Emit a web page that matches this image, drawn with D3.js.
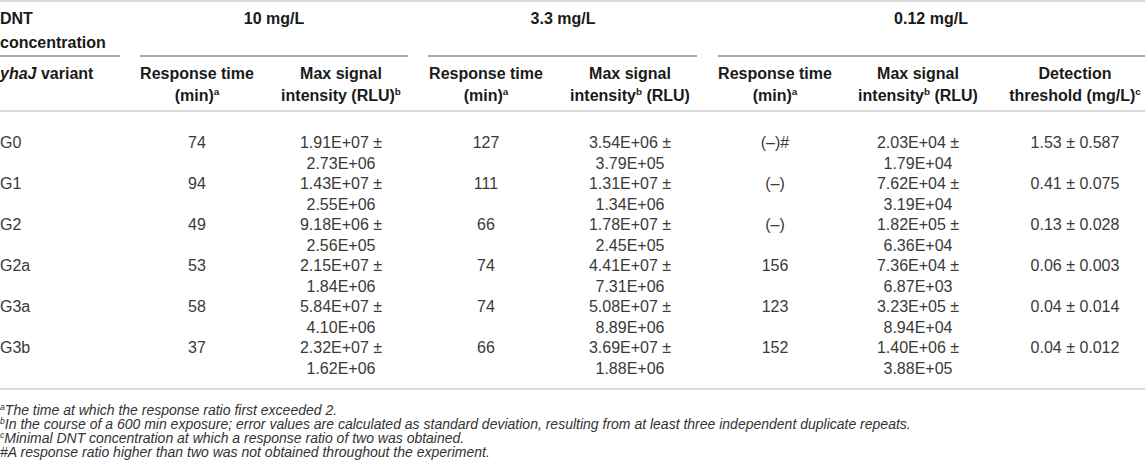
<!DOCTYPE html>
<html>
<head>
<meta charset="utf-8">
<script src="https://cdn.jsdelivr.net/npm/d3@7"></script>
<style>
  body { margin: 0; background: #fff; }
  svg { display: block; font-family: "Liberation Sans", Arial, Helvetica, sans-serif; }
</style>
</head>
<body>
<div id="chart"></div>
<script>
// Table data
var variants = ["G0", "G1", "G2", "G2a", "G3a", "G3b"];
var concentrations = ["10 mg/L", "3.3 mg/L", "0.12 mg/L"];

var respTime10 = ["74", "94", "49", "53", "58", "37"];
var signal10 = ["1.91E+07", "1.43E+07", "9.18E+06", "2.15E+07", "5.84E+07", "2.32E+07"];
var signalSd10 = ["2.73E+06", "2.55E+06", "2.56E+05", "1.84E+06", "4.10E+06", "1.62E+06"];

var respTime33 = ["127", "111", "66", "74", "74", "66"];
var signal33 = ["3.54E+06", "1.31E+07", "1.78E+07", "4.41E+07", "5.08E+07", "3.69E+07"];
var signalSd33 = ["3.79E+05", "1.34E+06", "2.45E+05", "7.31E+06", "8.89E+06", "1.88E+06"];

var respTime012 = ["(\u2013)#", "(\u2013)", "(\u2013)", "156", "123", "152"];
var signal012 = ["2.03E+04", "7.62E+04", "1.82E+05", "7.36E+04", "3.23E+05", "1.40E+06"];
var signalSd012 = ["1.79E+04", "3.19E+04", "6.36E+04", "6.87E+03", "8.94E+04", "3.88E+05"];

var threshold = ["1.53", "0.41", "0.13", "0.06", "0.04", "0.04"];
var thresholdSd = ["0.587", "0.075", "0.028", "0.003", "0.014", "0.012"];

var footnotes = [
  ["a", "The time at which the response ratio first exceeded 2."],
  ["b", "In the course of a 600 min exposure; error values are calculated as standard deviation, resulting from at least three independent duplicate repeats."],
  ["c", "Minimal DNT concentration at which a response ratio of two was obtained."],
  ["", "#A response ratio higher than two was not obtained throughout the experiment."]
];

// Dimensions
var w = 1145;
var h = 474;
var fs = 16;

var svg = d3
  .select("#chart")
  .append("svg")
  .attr("width", w)
  .attr("height", h);

// column centres
var colKeys = ["rt10", "sig10", "rt33", "sig33", "rt012", "sig012", "thr"];
var xCol = d3.scaleOrdinal().domain(colKeys).range([197, 341, 486, 630, 775, 918, 1075]);

// row bands
var yRow = d3.scaleBand().domain(variants).range([121.5, 367.5]);

// writes a text made of parts, superscripts as {sup: "a"}
function richText(g, x, y, parts, anchor, opts) {
  var t = g
    .append("text")
    .attr("x", x)
    .attr("y", y + opts.size * 0.36) // y is the visual middle of the line
    .attr("text-anchor", anchor)
    .attr("font-size", opts.size)
    .attr("font-weight", opts.weight || "normal")
    .attr("font-style", opts.style || "normal")
    .attr("fill", opts.fill);
  var shift = opts.size * 0.38;
  var raised = false;
  parts.forEach(function (p) {
    var sp;
    if (typeof p === "string") {
      sp = t.append("tspan").text(p);
    } else if (p.sup) {
      sp = t.append("tspan").attr("font-size", opts.size * 0.62).text(p.sup);
      sp.attr("dy", -shift);
      raised = true;
      return;
    } else {
      sp = t.append("tspan").attr("font-style", "italic").text(p.it);
    }
    if (raised) {
      sp.attr("dy", shift);
      raised = false;
    }
  });
  return t;
}

// Rules
function hline(x1, x2, y, color, width) {
  svg
    .append("line")
    .attr("x1", x1)
    .attr("x2", x2)
    .attr("y1", y)
    .attr("y2", y)
    .attr("stroke", color)
    .attr("stroke-width", width);
}
hline(0, w, 1, "#dcdcdc", 2);
hline(0, 120, 56, "#8c8c8c", 1.6);
hline(140, 408, 56, "#8c8c8c", 1.6);
hline(428, 697, 56, "#8c8c8c", 1.6);
hline(718, w, 56, "#8c8c8c", 1.6);
hline(0, w, 111, "#dcdcdc", 2);
hline(0, w, 389, "#dcdcdc", 2);

// Header
var hOpt = { size: fs, weight: "bold", fill: "#1a1a1a" };
var head = svg.append("g");
richText(head, 0, 18, ["DNT"], "start", hOpt);
richText(head, 0, 42, ["concentration"], "start", hOpt);
var spanCenters = [274, 563, 931];
concentrations.forEach(function (c, i) {
  richText(head, spanCenters[i], 18, [c], "middle", hOpt);
});

richText(head, 0, 73, [{ it: "yhaJ" }, " variant"], "start", hOpt);

var subHeads = [
  ["rt10", ["Response time"], ["(min)", { sup: "a" }]],
  ["sig10", ["Max signal"], ["intensity (RLU)", { sup: "b" }]],
  ["rt33", ["Response time"], ["(min)", { sup: "a" }]],
  ["sig33", ["Max signal"], ["intensity", { sup: "b" }, " (RLU)"]],
  ["rt012", ["Response time"], ["(min)", { sup: "a" }]],
  ["sig012", ["Max signal"], ["intensity", { sup: "b" }, " (RLU)"]],
  ["thr", ["Detection"], ["threshold (mg/L)", { sup: "c" }]]
];
subHeads.forEach(function (s) {
  richText(head, xCol(s[0]), 73, s[1], "middle", hOpt);
  richText(head, xCol(s[0]), 95, s[2], "middle", hOpt);
});

// Body
var bOpt = { size: fs, fill: "#3a3a3a" };
var body = svg.append("g");
var line1 = function (v) { return yRow(v) + 20.5; };
var line2 = function (v) { return yRow(v) + 41.5; };

variants.forEach(function (v, i) {
  richText(body, 0, line1(v), [v], "start", bOpt);

  richText(body, xCol("rt10"), line1(v), [respTime10[i]], "middle", bOpt);
  richText(body, xCol("sig10"), line1(v), [signal10[i] + " \u00b1"], "middle", bOpt);
  richText(body, xCol("sig10"), line2(v), [signalSd10[i]], "middle", bOpt);

  richText(body, xCol("rt33"), line1(v), [respTime33[i]], "middle", bOpt);
  richText(body, xCol("sig33"), line1(v), [signal33[i] + " \u00b1"], "middle", bOpt);
  richText(body, xCol("sig33"), line2(v), [signalSd33[i]], "middle", bOpt);

  richText(body, xCol("rt012"), line1(v), [respTime012[i]], "middle", bOpt);
  richText(body, xCol("sig012"), line1(v), [signal012[i] + " \u00b1"], "middle", bOpt);
  richText(body, xCol("sig012"), line2(v), [signalSd012[i]], "middle", bOpt);

  richText(body, xCol("thr"), line1(v), [threshold[i] + " \u00b1 " + thresholdSd[i]], "middle", bOpt);
});

// Footnotes
var fOpt = { size: 14, style: "italic", fill: "#333" };
var foot = svg.append("g");
footnotes.forEach(function (f, i) {
  var parts = f[0] ? [{ sup: f[0] }, f[1]] : [f[1]];
  richText(foot, 0, 410 + i * 14, parts, "start", fOpt);
});
</script>
</body>
</html>
